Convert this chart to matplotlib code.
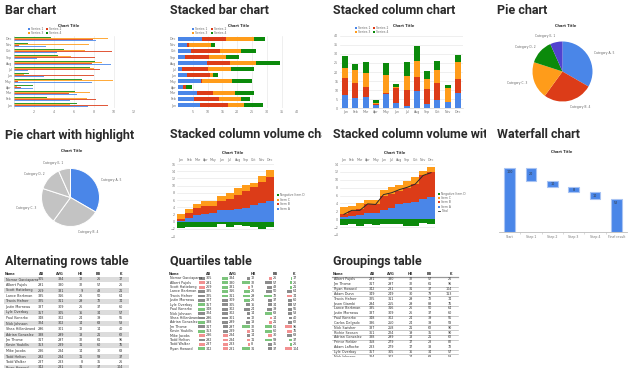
import numpy as np
import matplotlib
matplotlib.use('Agg')
import matplotlib.pyplot as plt
from matplotlib.patches import Rectangle
from matplotlib.lines import Line2D
from matplotlib.transforms import Bbox
from matplotlib import font_manager

# ---------------- data ----------------
months = ['Jan', 'Feb', 'Mar', 'Apr', 'May', 'Jun', 'Jul', 'Aug', 'Sep', 'Oct', 'Nov', 'Dec']
series_names = ['Series 1', 'Series 2', 'Series 3', 'Series 4']
series1 = [7.4, 5.6, 6.3, 1.9, 7.8, 3.0, 1.4, 9.7, 2.3, 4.3, 3.2, 8.2]
series2 = [9.4, 8.2, 5.5, 0.7, 0.4, 8.0, 8.6, 7.8, 8.1, 9.8, 0.5, 7.9]
series3 = [5.6, 7.3, 7.6, 0.3, 9.9, 1.0, 8.0, 8.8, 5.7, 7.1, 7.5, 9.4]
series4 = [6.3, 3.3, 6.1, 1.9, 6.8, 1.5, 7.6, 8.1, 4.4, 5.0, 1.4, 3.7]

pie_labels = ['Category A', 'Category B', 'Category C', 'Category D', 'Category E']
pie_values = [5, 4, 3, 2, 1]

vol_names = ['Item A', 'Item B', 'Item C', 'Negative Item D']
vol1_a = [0.2, 1.0, 1.7, 2.1, 2.4, 3.1, 3.2, 3.6, 3.9, 4.7, 5.2, 5.6]
vol1_b = [0.45, 1.4, 2.0, 2.2, 2.0, 2.5, 3.2, 3.9, 4.5, 4.8, 5.8, 6.7]
vol1_c = [1.35, 1.1, 1.1, 1.4, 1.2, 1.4, 1.5, 1.7, 1.7, 1.2, 1.8, 1.9]
vol1_d = [-1.7, -1.6, -1.5, -1.6, -1.6, -0.8, -1.6, -0.9, -1.3, -1.5, -2.0, -1.6]

vol2_a = [0.5, 0.7, 1.1, 1.5, 1.5, 2.3, 2.9, 3.75, 4.0, 4.3, 5.25, 5.6]
vol2_b = [0.9, 1.5, 1.4, 2.25, 2.25, 3.5, 3.6, 3.5, 3.9, 4.6, 5.85, 6.3]
vol2_c = [1.6, 1.2, 1.7, 1.25, 1.25, 1.7, 1.6, 1.5, 1.7, 1.8, 1.15, 1.35]
vol2_d = [-1.5, -1.1, -1.8, -1.3, -1.4, -1.3, -1.3, -1.3, -1.8, -1.7, -0.9, -1.3]
vol2_total = [1.25, 2.25, 2.25, 3.9, 3.75, 6.25, 6.7, 7.5, 8.1, 8.9, 11.1, 11.8]

wf_labels = ['Start', 'Step 1', 'Step 2', 'Step 3', 'Step 4', 'Final result']
wf_start = 100
wf_steps = [-20, -10, -8, -10]
wf_final = 52

table_header = ['Name', 'AB', 'AVG', 'HR', 'BB', 'K']

alt_name = ['Nomar Garciaparra', 'Albert Pujols', 'Scott Hatteberg', 'Lance Berkman', 'Travis Hafner',
            'Justin Morneau', 'Lyle Overbay', 'Paul Konerko', 'Nick Johnson', 'Shea Hillenbrand',
            'Adrian Gonzalez', 'Jim Thome', 'Kevin Youkilis', 'Mike Jacobs', 'Todd Helton', 'Todd Walker',
            'Ryan Howard']
alt_ab = [305, 291, 269, 335, 325, 337, 357, 348, 324, 296, 338, 317, 353, 286, 292, 287, 342]
alt_avg = [334, 330, 331, 316, 311, 309, 305, 302, 302, 301, 299, 297, 289, 284, 284, 283, 281]
alt_hr = [12, 32, 9, 26, 29, 26, 16, 24, 14, 12, 18, 32, 11, 14, 11, 8, 31]
alt_bb = [26, 57, 43, 50, 72, 37, 34, 39, 63, 14, 21, 61, 60, 30, 59, 35, 37]
alt_k = [17, 26, 21, 64, 74, 60, 57, 56, 53, 40, 62, 96, 76, 63, 37, 26, 104]

grp_name = ['Albert Pujols', 'Jim Thome', 'Ryan Howard', 'Adam Dunn', 'Travis Hafner', 'Jason Giambi',
            'Lance Berkman', 'Justin Morneau', 'Paul Konerko', 'Carlos Delgado', 'Nick Swisher',
            'Richie Sexson', 'Adrian Gonzalez', 'Prince Fielder', 'Adam LaRoche', 'Lyle Overbay',
            'Nick Johnson']
grp_ab = [291, 317, 342, 349, 325, 294, 335, 337, 348, 336, 337, 361, 338, 358, 283, 357, 324]
grp_avg = [330, 297, 281, 249, 311, 255, 316, 309, 302, 250, 258, 224, 299, 279, 279, 305, 302]
grp_hr = [32, 32, 31, 30, 29, 29, 26, 26, 24, 24, 21, 19, 18, 17, 17, 16, 14]
grp_bb = [57, 61, 37, 73, 72, 88, 50, 37, 39, 39, 62, 35, 21, 28, 33, 34, 63]
grp_k = [26, 96, 104, 113, 74, 76, 64, 60, 56, 58, 90, 90, 62, 82, 72, 57, 53]

# ---------------- style ----------------
BLUE, RED, ORANGE, GREEN, PURPLE = '#4a86e8', '#dc3c18', '#ff9c1a', '#0b8a0b', '#5142cf'
SER_COLORS = [BLUE, RED, ORANGE, GREEN]
TICK_FS = 2.3
W, H = 633, 380

fig = plt.figure(figsize=(W / 100, H / 100), dpi=100)
fig.patch.set_facecolor('white')


def px_ax(x0, y0, x1, y1):
    return fig.add_axes([x0 / W, 1 - y1 / H, (x1 - x0) / W, (y1 - y0) / H])


def disp_box(x0, y0, x1, y1):
    return Bbox.from_extents(x0, H - y1, x1, H - y0)


ov = px_ax(0, 0, W, H)
ov.set_xlim(0, W)
ov.set_ylim(H, 0)
ov.axis('off')


def legend_item(x, y, color, label, line=False):
    if line:
        ov.add_line(Line2D([x - 1.2, x + 1.2], [y, y], color=color, lw=0.6))
    else:
        ov.add_patch(Rectangle((x - 1.0, y - 0.9), 2.0, 1.8, color=color, lw=0))
    ov.text(x + 2.0, y, label, fontsize=2.2, va='center', ha='left', color='#666')


def chart_title(x, y):
    ov.text(x, y, 'Chart Title', fontsize=2.6, va='center', ha='center', color='#333', fontweight='bold')


def style(ax, grid_axis=None):
    for s in ax.spines.values():
        s.set_visible(False)
    ax.tick_params(length=0, labelsize=TICK_FS, colors='#777', pad=1.2)
    if grid_axis:
        ax.grid(axis=grid_axis, color='#e6e6e6', lw=0.45)
        ax.set_axisbelow(True)


# ---------------- titles ----------------
avail = {f.name for f in font_manager.fontManager.ttflist}
TITLE_FONT = 'Liberation Sans Narrow' if 'Liberation Sans Narrow' in avail else 'Roboto'
# the two long titles are cut off by their thumbnail frame in the original
titles = [('Bar chart', 5, 10, None), ('Stacked bar chart', 170, 10, None),
          ('Stacked column chart', 333, 10, None), ('Pie chart', 497, 10, None),
          ('Pie chart with highlight', 5, 135, None), ('Stacked column volume cha', 170, 135, 322),
          ('Stacked column volume with', 333, 135, 486), ('Waterfall chart', 497, 135, None),
          ('Alternating rows table', 5, 261, None), ('Quartiles table', 170, 261, None),
          ('Groupings table', 333, 261, None)]
ttexts = []
for s, x, y, clip in titles:
    t = ov.text(x, y, s, fontsize=10, fontweight='bold', family=TITLE_FONT, va='center', ha='left',
                color='#2a2a2a')
    ttexts.append((t, x, y, clip))
rend = fig.canvas.get_renderer()
wref = ttexts[8][0].get_window_extent(renderer=rend).width
tfs = 10 * 125 / wref
for t, x, y, clip in ttexts:
    t.set_fontsize(tfs)
    if clip:
        t.set_clip_box(disp_box(x - 3, y - 12, clip, y + 12))
        t.set_clip_on(True)

series = [series1, series2, series3, series4]
y = np.arange(len(months))

# ---------------- bar chart ----------------
ax = px_ax(13.5, 36, 133.5, 108)
for k, (vals, c) in enumerate(zip(series, SER_COLORS)):
    ax.barh(y - 0.3 + 0.2 * k, vals, height=0.2, color=c, lw=0, alpha=0.85)
ax.set_xlim(0, 12)
ax.set_ylim(-0.5, 11.5)
ax.set_xticks([2, 4, 6, 8, 10, 12])
ax.set_yticks(y, months)
style(ax, 'x')
ax.spines['left'].set_visible(True)
ax.spines['left'].set_color('#cccccc')
ax.spines['left'].set_linewidth(0.4)
chart_title(69, 26)
for (lx, ly), n, c in zip([(29.3, 29), (29.3, 32.7), (46.7, 29), (46.7, 32.7)],
                          [series_names[0], series_names[2], series_names[1], series_names[3]],
                          [SER_COLORS[0], SER_COLORS[2], SER_COLORS[1], SER_COLORS[3]]):
    legend_item(lx, ly, c, n)

# ---------------- stacked bar ----------------
ax = px_ax(177.8, 36, 296.7, 108)
left = np.zeros(12)
for vals, c in zip(series, SER_COLORS):
    ax.barh(y, vals, left=left, height=0.55, color=c, lw=0)
    left += np.array(vals)
ax.set_xlim(0, 40)
ax.set_ylim(-0.5, 11.5)
ax.set_xticks([5, 10, 15, 20, 25, 30, 35, 40])
ax.set_yticks(y, months)
style(ax, 'x')
chart_title(239, 26)
for (lx, ly), n, c in zip([(193.3, 29), (193.3, 32.7), (211.7, 29), (211.7, 32.7)],
                          [series_names[0], series_names[2], series_names[1], series_names[3]],
                          [SER_COLORS[0], SER_COLORS[2], SER_COLORS[1], SER_COLORS[3]]):
    legend_item(lx, ly, c, n)

# ---------------- stacked column ----------------
ax = px_ax(340, 35.7, 463, 108.3)
bottom = np.zeros(12)
for vals, c in zip(series, SER_COLORS):
    ax.bar(y, vals, bottom=bottom, width=0.6, color=c, lw=0)
    bottom += np.array(vals)
ax.set_ylim(0, 40)
ax.set_xlim(-0.5, 11.5)
ax.set_yticks(range(0, 41, 5))
ax.set_xticks(y, months)
style(ax, 'y')
ax.spines['bottom'].set_visible(True)
ax.spines['bottom'].set_color('#cccccc')
ax.spines['bottom'].set_linewidth(0.4)
chart_title(404, 26)
for (lx, ly), n, c in zip([(356, 28.3), (356, 32.3), (374.3, 28.3), (374.3, 32.3)],
                          [series_names[0], series_names[2], series_names[1], series_names[3]],
                          [SER_COLORS[0], SER_COLORS[2], SER_COLORS[1], SER_COLORS[3]]):
    legend_item(lx, ly, c, n)

# ---------------- pie ----------------
plabels = [f'{l}, {v}' for l, v in zip(pie_labels, pie_values)]
ax = px_ax(532.5, 41.5, 592.5, 101.5)
ax.pie(pie_values, colors=[BLUE, RED, ORANGE, GREEN, PURPLE], startangle=90, counterclock=False,
       labels=plabels, labeldistance=1.22, textprops=dict(fontsize=2.2, color='#666'),
       wedgeprops=dict(linewidth=0))
ax.set_xlim(-1, 1)
ax.set_ylim(-1, 1)
chart_title(566, 26)

# ---------------- pie highlight ----------------
ax = px_ax(41.5, 168.5, 99.5, 226.5)
ax.pie(pie_values, colors=[BLUE] + ['#c3c3c3'] * 4, startangle=90, counterclock=False,
       labels=plabels, labeldistance=1.22, textprops=dict(fontsize=2.2, color='#666'),
       wedgeprops=dict(linewidth=0.7, edgecolor='white'))
ax.set_xlim(-1, 1)
ax.set_ylim(-1, 1)
chart_title(72, 151)


# ---------------- stacked column volume ----------------
def volume(box, a, b, c, d, ymax, total=None):
    ax = px_ax(*box)
    a, b, c, d = map(np.array, (a, b, c, d))
    ax.bar(y, a, width=1.0, color=BLUE, lw=0)
    ax.bar(y, b, bottom=a, width=1.0, color=RED, lw=0)
    ax.bar(y, c, bottom=a + b, width=1.0, color=ORANGE, lw=0)
    ax.bar(y, d, width=1.0, color=GREEN, lw=0)
    if total is not None:
        ax.plot(y, total, color='#2a2a2a', lw=0.7)
    ax.set_xlim(-0.5, 11.5)
    ax.set_ylim(-4, ymax)
    ax.set_yticks(range(-4, ymax + 1, 2))
    ax.set_xticks(y, months)
    ax.xaxis.tick_top()
    style(ax, 'y')
    return ax


volume((177, 164, 274, 236), vol1_a, vol1_b, vol1_c, vol1_d, 16)
chart_title(233, 153)
for ly, n, c in zip([195.3, 200, 204.3, 208.7], vol_names[::-1], [GREEN, ORANGE, RED, BLUE]):
    legend_item(278.3, ly, c, n)

volume((340, 164, 435, 235), vol2_a, vol2_b, vol2_c, vol2_d, 14, vol2_total)
chart_title(395, 153)
for ly, n, c in zip([193.7, 198, 202.3, 206.7], vol_names[::-1], [GREEN, ORANGE, RED, BLUE]):
    legend_item(439, ly, c, n)
legend_item(439, 211, '#2a2a2a', 'Total', line=True)

# ---------------- waterfall ----------------
ax = px_ax(499, 160, 627, 232)
xs = np.arange(len(wf_labels))
bottoms, heights, labels = [0], [wf_start], [str(wf_start)]
run = wf_start
for s in wf_steps:
    run += s
    bottoms.append(run)
    heights.append(-s)
    labels.append(str(-s))
bottoms.append(0)
heights.append(wf_final)
labels.append(str(wf_final))
ax.bar(xs, heights, bottom=bottoms, width=0.5, color=BLUE, edgecolor='#a9c4f3', lw=0.8)
for i, (b, h, l) in enumerate(zip(bottoms, heights, labels)):
    ly = b + h - 6 if (i == 0 or i == len(xs) - 1) else b + h / 2
    ax.text(i, ly, l, fontsize=2.4, ha='center', va='center', color='#333')
ax.set_xlim(-0.5, 5.5)
ax.set_ylim(0, 112.5)
ax.set_xticks(xs, wf_labels)
ax.set_yticks([])
for s in ax.spines.values():
    s.set_visible(False)
ax.spines['bottom'].set_visible(True)
ax.spines['bottom'].set_color('#bbbbbb')
ax.spines['bottom'].set_linewidth(0.6)
ax.tick_params(axis='x', length=0, labelsize=TICK_FS, colors='#777', pad=2)
ax.set_xticks(xs[:-1] + 0.5, minor=True)
ax.tick_params(axis='x', which='minor', length=1.5, width=0.4, color='#bbbbbb')
chart_title(562, 152)

# ---------------- tables ----------------
TFS = 2.4


def table_text(x, yv, s, ha, bold=False, clip=None):
    t = ov.text(x, yv, s, fontsize=TFS, ha=ha, va='center', color='#333',
                fontweight='bold' if bold else 'normal')
    if clip:
        t.set_clip_box(disp_box(0, 0, W, clip))
        t.set_clip_on(True)
    return t


# alternating rows
alt_cols = [alt_ab, alt_avg, alt_hr, alt_bb, alt_k]
alt_x = [44.5, 64, 83, 100.7, 122.7]
table_text(5, 274, table_header[0], 'left', True)
for hx, hn in zip(alt_x, table_header[1:]):
    table_text(hx, 274, hn, 'right', True)
for i, name in enumerate(alt_name):
    ry = 279.5 + i * 5.5
    clip = 368 if ry + 2 > 368 else None
    if i % 2 == 0:
        r = Rectangle((4, ry - 2.75), 125, 5.5, color='#dcdcdc', lw=0)
        ov.add_patch(r)
        if clip:
            r.set_clip_box(disp_box(0, 0, W, clip))
            r.set_clip_on(True)
    table_text(5.5, ry, name, 'left', clip=clip)
    for cx, col in zip(alt_x, alt_cols):
        table_text(cx, ry, str(col[i]), 'right', clip=clip)

# quartiles
q_name = alt_name
q_cols = [alt_ab, alt_avg, alt_hr, alt_bb, alt_k]
q_bar_end = [204.7, 228.3, 250, 271.7, 291.7]
q_bar_max = [7.0, 6.5, 8.0, 8.0, 7.0]
q_reverse = [False, False, False, False, True]
table_text(169, 274, table_header[0], 'left', True)
for hx, hn in zip(q_bar_end, table_header[1:]):
    table_text(hx + 0.8, 274, hn, 'left', True)
for cx, mw, col, rev in zip(q_bar_end, q_bar_max, q_cols, q_reverse):
    arr = np.array(col, dtype=float)
    q1, q3 = np.percentile(arr, 25), np.percentile(arr, 75)
    for i, v in enumerate(arr):
        ry = 278.3 + i * 4.4
        hi, lo = v >= q3, v < q1
        if rev:
            hi, lo = v <= q1, v > q3
        c = '#7cc47c' if hi else ('#f29191' if lo else '#8c8c8c')
        bw = mw * v / arr.max()
        ov.add_patch(Rectangle((cx - bw, ry - 1.4), bw, 2.8, color=c, lw=0))
        table_text(cx + 0.8, ry, str(col[i]), 'left')
for i, name in enumerate(q_name):
    table_text(169.5, 278.3 + i * 4.4, name, 'left')

# groupings
g_cols = [grp_ab, grp_avg, grp_hr, grp_bb, grp_k]
g_x = [375, 394.3, 413.3, 432, 452]
table_text(333, 274, table_header[0], 'left', True)
for hx, hn in zip(g_x, table_header[1:]):
    table_text(hx, 274, hn, 'right', True)
ov.add_line(Line2D([332, 458], [276.6, 276.6], color='#999999', lw=0.9))
for i, name in enumerate(grp_name):
    ry = 279.3 + i * 4.85
    clip = 357 if ry + 2 > 357 else None
    table_text(333.5, ry, name, 'left', clip=clip)
    for cx, col in zip(g_x, g_cols):
        table_text(cx, ry, str(col[i]), 'right', clip=clip)
    if i + 1 < len(grp_name) and grp_hr[i + 1] != grp_hr[i] and ry + 2.4 < 357:
        ov.add_line(Line2D([332, 458], [ry + 2.42, ry + 2.42], color='#aaaaaa', lw=0.45))

fig.savefig('out.png', dpi=100, facecolor='white')
